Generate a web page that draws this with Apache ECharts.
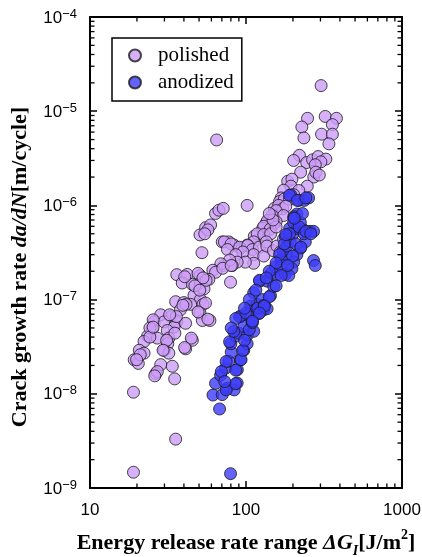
<!DOCTYPE html>
<html><head><meta charset="utf-8">
<script src="https://cdn.jsdelivr.net/npm/echarts@6/dist/echarts.min.js"></script>
<style>html,body{margin:0;padding:0;background:#fff}#c{width:422px;height:557px}#info{position:absolute;left:-9999px;top:0;width:10px;height:10px;overflow:hidden;font:9px monospace;color:transparent}</style>
</head><body><div id="c"></div><div id="info"></div>
<script>
// Axis ranges / ticks
const xRange = [10, 1000];
const yRange = [1e-9, 1e-4];
const seriesNames = ['polished', 'anodized'];

// polished specimens [ΔG_I (J/m^2), da/dN (m/cycle)]
const polished = [
  [303,1.87e-5],[64.8,4.95e-6],[101.7,1.0e-6],[19.0,1.04e-8],[19.0,1.47e-9],[35.4,3.3e-9],[34.9,1.44e-8],
  [248,8.4e-6],[228,6.8e-6],[235,5.2e-6],[322,8.8e-6],[380,8.4e-6],[358,7.2e-6],[305,5.7e-6],[358,5.7e-6],[340,4.5e-6],
  [220,3.4e-6],[202,3.0e-6],[245,2.85e-6],[267,3.05e-6],[290,3.3e-6],[325,3.1e-6],[302,2.9e-6],[278,2.7e-6],
  [224,2.25e-6],[272,2.0e-6],[280,2.25e-6],[295,2.1e-6],[185,1.8e-6],[197,1.9e-6],[247,1.6e-6],[194,1.6e-6],
  [174,1.45e-6],[218,1.44e-6],[202,1.3e-6],[168,1.2e-6],[164,1.1e-6],[176,1.17e-6],[190,1.16e-6],[152,9.3e-7],
  [162,1.0e-6],[172,9.2e-7],[180,9.8e-7],[156,8.8e-7],[144,7.3e-7],[174,7.8e-7],[147,7.8e-7],[135,6.5e-7],
  [156,6.7e-7],[150,6.3e-7],[137,6.9e-7],[128,5.7e-7],[130,6.0e-7],[143,5.6e-7],[113,4.7e-7],[118,5.0e-7],
  [130,4.9e-7],[144,5.0e-7],[156,5.9e-7],[149,7.0e-7],[141,8.2e-7],
  [112,4.1e-7],[102,3.8e-7],[92,3.5e-7],[83.6,3.8e-7],[77.6,4.1e-7],[70.4,4.1e-7],[72.7,4.1e-7],[80.3,3.9e-7],
  [91,3.6e-7],[102.6,3.75e-7],[110,3.4e-7],[122,3.6e-7],[135,4.1e-7],[76,3.4e-7],[112,3.0e-7],[130,2.9e-7],
  [136,3.7e-7],[150,3.3e-7],[158,3.7e-7],[166,3.2e-7],[174,4.4e-7],[95.5,3.2e-7],[86,3.0e-7],[112,2.43e-7],
  [99,2.5e-7],[87.8,2.5e-7],[81.6,2.3e-7],[72,2.3e-7],[78.5,2.63e-7],[69,2.4e-7],[61.3,2.05e-7],[63.8,1.95e-7],
  [57.8,1.64e-7],[79.6,1.53e-7],
  [52.2,3.15e-7],[50.7,4.86e-7],[55.1,5.8e-7],[59.3,6.2e-7],[63.8,8.2e-7],[67,8.9e-7],[71.5,9.3e-7],[57,5.5e-7],[54.4,5.0e-7],
  [36,1.84e-7],[42,1.85e-7],[39,1.5e-7],[45.3,1.45e-7],[50.7,1.8e-7],[51,1.5e-7],[53.8,1.3e-7],[46.4,1.11e-7],
  [51,1.0e-7],[44.2,8.9e-8],[53,8.9e-8],[55,9.2e-8],[50.7,7.2e-8],[52.5,6.0e-8],[58.7,6.0e-8],[35.4,9.5e-8],
  [40,9.3e-8],[38,7.8e-8],[49.3,1.9e-7],[55.5,1.6e-7],[71,2.15e-7],[80.4,2.3e-7],[53,1.7e-7],[47,1.4e-7],
  [40.5,1.75e-7],[50.5,1.26e-7],[41.3,8.9e-8],[49.3,7.4e-8],[57,6.2e-8],
  [33,6.6e-8],[28.4,6.9e-8],[25.8,5.8e-8],[29.8,5.8e-8],[36,5.8e-8],[41,5.6e-8],[34.6,5.1e-8],[31.3,4.7e-8],
  [25.1,4.9e-8],[23.4,4.1e-8],[27,3.9e-8],[32,3.9e-8],[35,4.4e-8],[22.2,3.6e-8],[31.5,3.4e-8],[45.3,3.7e-8],
  [41,3.0e-8],[20.7,2.9e-8],[29.9,2.9e-8],[22.2,2.7e-8],[32,2.7e-8],[19.2,2.3e-8],[20.4,2.1e-8],[28.4,2.04e-8],
  [33.7,1.96e-8],[26.4,1.64e-8],[27,1.72e-8],[26,1.55e-8],[25.4,6.1e-8],[24.2,5.0e-8],[35.8,6.6e-8],[32.4,6.9e-8],
  [39.4,8.7e-8],[44.6,3.9e-8],[40.4,3.1e-8],[24.2,4.0e-8],[25.4,5.1e-8],[31,3.7e-8],[29.4,2.9e-8],[21,2.6e-8],[19.9,2.3e-8]
];

// anodized specimens
const anodized = [
  [79.6,1.42e-9],[67.7,6.9e-9],[61.4,9.7e-9],[70.4,9.8e-9],[63.8,1.29e-8],[75.8,1.15e-8],[84,1.1e-8],[87.8,1.3e-8],
  [68.7,1.57e-8],[74,1.87e-8],[88,1.8e-8],[77.6,2.22e-8],[92.2,2.3e-8],[80.4,2.77e-8],[80,3.4e-8],[85.7,4.1e-8],
  [90,4.4e-8],[96.8,2.9e-8],[101.7,3.4e-8],[102,4.2e-8],[92.2,6.6e-8],[104,7.1e-8],[109,5.8e-8],[112,4.6e-8],
  [97,5.2e-8],[107,8.55e-8],[118,8.9e-8],[130,7.8e-8],[112,1.18e-7],[127,1.0e-7],[121,7.1e-8],[143.5,1.1e-7],
  [136.5,8.0e-8],[122.5,1.57e-7],[136.5,1.57e-7],[145,1.9e-7],[150.6,1.38e-7],[158,1.85e-7],[154.5,2.22e-7],
  [168,2.3e-7],[178.6,1.85e-7],[168,2.69e-7],[183,3.0e-7],[173,3.3e-7],[183,3.7e-7],[178.6,4.66e-7],[192,4.1e-7],
  [200,5.0e-7],[190.5,5.7e-7],[212,5.7e-7],[202,7.5e-7],[212,8.1e-7],[194,1.29e-6],[218,1.13e-6],[236,1.13e-6],
  [252,1.2e-6],[234,5.5e-7],[258,5.3e-7],[271,5.3e-7],[240,4.1e-7],[223,3.5e-7],[212,3.0e-7],[202,2.5e-7],
  [197,2.13e-7],[188,1.8e-7],[271,2.6e-7],[278,2.3e-7],[202,6.6e-7],[223,6.6e-7],
  [74.6,1.1e-8],[85.7,1.28e-8],[86,1.78e-8],[93,2.3e-8],[95.3,2.9e-8],[97.8,3.7e-8],[105,4.8e-8],[110,5.7e-8],
  [91,6.6e-8],[100,7.2e-8],[119,8.1e-8],[131,8.7e-8],[78.5,3.57e-8],[74.6,2.2e-8],[69.5,1.72e-8],[83.5,4.6e-8],[73,1.35e-8],
  [204,7.6e-7],[219,5.9e-7],[190,5.0e-7],[176,3.9e-7],[164,3.0e-7],[156,2.45e-7],[141,2.0e-7],[122,1.6e-7],
  [135,1.7e-7],[115.6,1.26e-7],[105,1.0e-7],[97.8,8.1e-8],[86,6.3e-8],[80.4,5.0e-8],[209,3.9e-7],[199,2.9e-7],
  [185,2.3e-7],[168,1.8e-7],[156,1.4e-7],[141,1.07e-7],[131,8.5e-8],[122,7.2e-8],[110,5.9e-8],[236,5.0e-7],
  [225,3.6e-7],[230,8.2e-7],[190,1.28e-6],[213,1.13e-6],[242,1.2e-6],[204,7.3e-7],[180,4.9e-7],[242,5.3e-7],[260,5.0e-7]
];

// minor tick positions (2..9 × each decade)
const minorMult = [2,3,4,5,6,7,8,9];
const xDecades = [10, 100];
const yDecades = [1e-9, 1e-8, 1e-7, 1e-6, 1e-5];
const minorTicks = [];
xDecades.forEach(d => minorMult.forEach(m => minorTicks.push([m*d, yRange[0], 0])));
yDecades.forEach(d => minorMult.forEach(m => minorTicks.push([xRange[0], m*d, 1])));

const chart = echarts.init(document.getElementById('c'));
const serif = 'Liberation Serif';
const sans = 'Liberation Sans';
const axisLine = {show: true, onZero: false, lineStyle: {color: '#000', width: 2}};
const axisTick = {show: true, inside: true, length: 7, lineStyle: {color: '#000', width: 1.5}};

function titleRich(fs) {
  const sm = Math.round(fs * 0.65);
  return {
    t: {fontFamily: serif, fontWeight: 'bold', fontSize: fs, color: '#000', lineHeight: 30, verticalAlign: 'middle'},
    i: {fontFamily: serif, fontWeight: 'bold', fontStyle: 'italic', fontSize: fs, color: '#000', lineHeight: 30, verticalAlign: 'middle'},
    sub: {fontFamily: serif, fontWeight: 'bold', fontStyle: 'italic', fontSize: sm, color: '#000', lineHeight: sm, verticalAlign: 'bottom'},
    sup: {fontFamily: serif, fontWeight: 'bold', fontSize: sm, color: '#000', lineHeight: sm, verticalAlign: 'top'}
  };
}

function expLabel(v) {
  const e = Math.round(Math.log10(v));
  return '{b|10}{s|\u2212' + (-e) + '}';
}

const option = {
  animation: false,
  backgroundColor: '#fff',
  grid: {left: 90, right: 20, top: 17, bottom: 69, outerBoundsMode: 'none'},
  legend: {
    orient: 'vertical', left: 112, top: 38,
    data: seriesNames,
    borderColor: '#000', borderWidth: 1.5, borderRadius: 0,
    padding: [7, 8, 8, 16], itemGap: 6,
    itemWidth: 12, itemHeight: 12,
    textStyle: {fontFamily: serif, fontSize: 21, color: '#000', padding: [0, 0, 0, 12]}
  },
  graphic: [{
    type: 'text', x: 20, y: 267, rotation: Math.PI / 2,
    style: {
      text: '{t|Crack growth rate }{i|da/dN}{t|[m/cycle]}',
      rich: titleRich(22), align: 'center', verticalAlign: 'middle'
    }
  }],
  xAxis: [
    {
      type: 'log', logBase: 10, min: xRange[0], max: xRange[1], position: 'bottom',
      axisLine, axisTick, splitLine: {show: false},
      axisLabel: {fontFamily: sans, fontSize: 17, color: '#000', margin: 14, formatter: v => String(Math.round(v))},
      name: '{t|Energy release rate range }{i|\u0394G}{sub|I}{t|[J/m}{sup|2}{t|]}',
      nameLocation: 'middle', nameGap: 40,
      nameTextStyle: {rich: titleRich(22)}
    },
    {
      type: 'log', logBase: 10, min: xRange[0], max: xRange[1], position: 'top',
      axisLine, axisTick, splitLine: {show: false}, axisLabel: {show: false}
    }
  ],
  yAxis: [
    {
      type: 'log', logBase: 10, min: yRange[0], max: yRange[1], position: 'left',
      axisLine, axisTick, splitLine: {show: false},
      axisLabel: {
        margin: 13, formatter: expLabel,
        rich: {
          b: {fontFamily: sans, fontSize: 17, color: '#000', lineHeight: 19, verticalAlign: 'bottom'},
          s: {fontFamily: sans, fontSize: 13, color: '#000', lineHeight: 13, verticalAlign: 'top'}
        }
      }
    },
    {
      type: 'log', logBase: 10, min: yRange[0], max: yRange[1], position: 'right',
      axisLine, axisTick, splitLine: {show: false}, axisLabel: {show: false}
    }
  ],
  series: [
    {
      name: seriesNames[0], type: 'scatter', data: polished, symbolSize: 12,
      itemStyle: {color: '#cc9cf8', borderColor: '#1a1a1a', borderWidth: 1}
    },
    {
      name: seriesNames[1], type: 'scatter', data: anodized, symbolSize: 12,
      itemStyle: {color: '#3c3cfa', borderColor: '#1a1a1a', borderWidth: 1}
    },
    {
      type: 'custom', silent: true, clip: false, z: 5,
      encode: {x: 0, y: 1},
      data: minorTicks,
      renderItem: function (params, api) {
        const cs = params.coordSys;
        const L = 4.5;
        const p = api.coord([api.value(0), api.value(1)]);
        const st = () => ({stroke: '#000', lineWidth: 1.3});
        if (api.value(2) === 0) {
          const px = p[0];
          return {type: 'group', children: [
            {type: 'line', shape: {x1: px, y1: cs.y + cs.height, x2: px, y2: cs.y + cs.height - L}, style: st()},
            {type: 'line', shape: {x1: px, y1: cs.y, x2: px, y2: cs.y + L}, style: st()}
          ]};
        } else {
          const py = p[1];
          return {type: 'group', children: [
            {type: 'line', shape: {x1: cs.x, y1: py, x2: cs.x + L, y2: py}, style: st()},
            {type: 'line', shape: {x1: cs.x + cs.width, y1: py, x2: cs.x + cs.width - L, y2: py}, style: st()}
          ]};
        }
      }
    }
  ]
};
chart.setOption(option);
// refresh the scene list and repaint so every tick is drawn
let info = '';
try {
  const list = chart.getZr().storage.getDisplayList(true);
  info = 'elements ' + list.length;
} catch (e) { info = 'err'; }
document.getElementById('info').textContent = info;
setTimeout(() => { chart.getZr().refreshImmediately(); document.getElementById('info').textContent += ' .'; }, 200);
</script>
</body></html>
